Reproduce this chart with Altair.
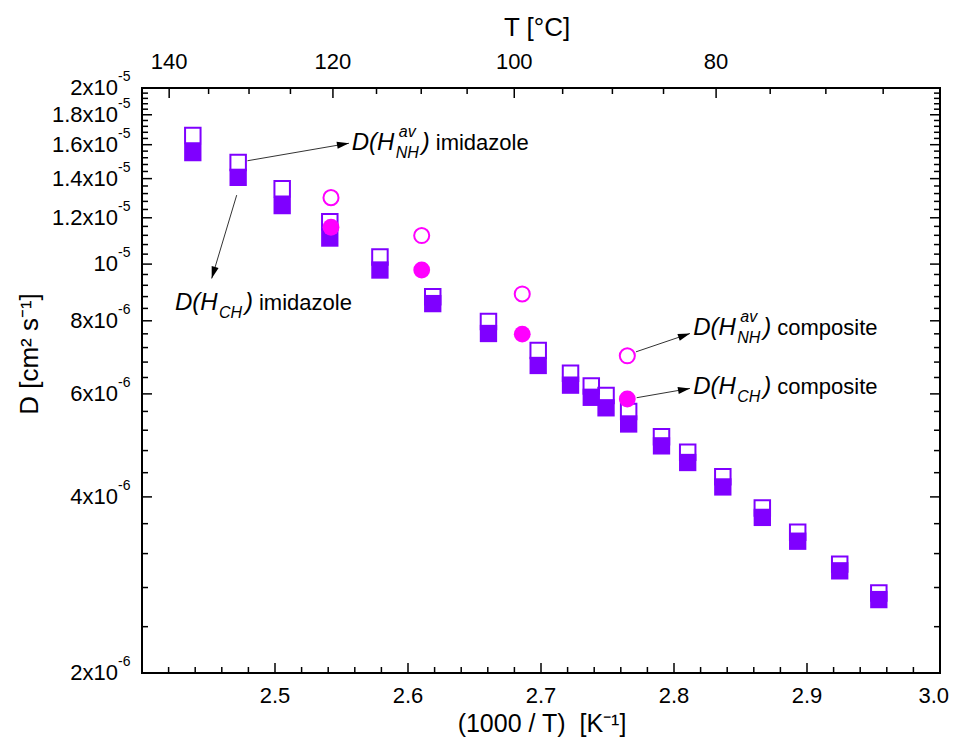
import altair as alt
import pandas as pd

# ---------------- data ----------------
inv_T_sq = [2.4382, 2.4723, 2.5054, 2.5412, 2.5789, 2.6186, 2.6605, 2.6979, 2.7222,
            2.7378, 2.7489, 2.7659, 2.7906, 2.8103, 2.8367, 2.8664, 2.8930, 2.9246, 2.9540]
D_NH_imid = [1.659e-5, 1.492e-5, 1.345e-5, 1.181e-5, 1.028e-5, 8.79e-6, 7.98e-6, 7.12e-6, 6.51e-6,
             6.19e-6, 5.96e-6, 5.60e-6, 5.07e-6, 4.77e-6, 4.33e-6, 3.83e-6, 3.48e-6, 3.07e-6, 2.74e-6]
D_CH_imid = [1.551e-5, 1.407e-5, 1.259e-5, 1.108e-5, 9.77e-6, 8.56e-6, 7.61e-6, 6.71e-6, 6.21e-6,
             5.92e-6, 5.68e-6, 5.33e-6, 4.89e-6, 4.58e-6, 4.16e-6, 3.69e-6, 3.36e-6, 2.99e-6, 2.67e-6]

inv_T_circ = [2.5421, 2.6103, 2.6859, 2.7649]
D_NH_comp = [1.299e-5, 1.119e-5, 8.89e-6, 6.97e-6]
D_CH_comp = [1.156e-5, 9.77e-6, 7.59e-6, 5.88e-6]

# axis ticks / labels
x_major = [2.5, 2.6, 2.7, 2.8, 2.9]
x_labels = [2.5, 2.6, 2.7, 2.8, 2.9]
x_last_label = [3.0]
x_minor = [round(2.4 + 0.02 * i, 2) for i in range(1, 30) if i % 5 != 0]
y_label_vals = [2e-6, 4e-6, 6e-6, 8e-6, 1e-5, 1.2e-5, 1.4e-5, 1.6e-5, 1.8e-5, 2e-5]
y_label_main = ["2x10", "4x10", "6x10", "8x10", "10", "1.2x10", "1.4x10", "1.6x10", "1.8x10", "2x10"]
y_label_exp = ["-6", "-6", "-6", "-6", "-5", "-5", "-5", "-5", "-5", "-5"]
y_major = y_label_vals[1:-1]
y_minor = [round(2 + 0.4 * i, 1) * 1e-6 for i in range(1, 45) if i % 5 != 0]
T_ticks = [140, 135, 130, 125, 120, 115, 110, 105, 100, 95, 90, 85, 80, 75, 70, 65]
T_labels = [140, 120, 100, 80]

# annotations
ann_x = [2.5577, 2.4248, 2.8145, 2.8145]
ann_D = [1.609e-5, 8.57e-6, 7.77e-6, 6.17e-6]
ann_sup = ["av", "", "av", ""]
ann_sub = ["NH", "CH", "NH", "CH"]
ann_word = ["imidazole", "imidazole", "composite", "composite"]

arr_x1 = [2.4793, 2.4712, 2.7714, 2.7719]
arr_D1 = [1.502e-5, 1.312e-5, 7.08e-6, 5.91e-6]
arr_x2 = [2.5556, 2.4524, 2.8120, 2.8120]
arr_D2 = [1.609e-5, 9.45e-6, 7.61e-6, 6.13e-6]
arr_ang = [350.4, 106.7, 341.2, 350.0]

# ---------------- chart ----------------
W, H = 798, 585
PURPLE = "#7F00FF"
MAGENTA = "#FF00FF"
FONT = "Liberation Sans"

xs = alt.Scale(domain=[2.4, 3.0], nice=False, zero=False)
ys = alt.Scale(type="log", domain=[2e-6, 2e-5], nice=False)

sq = pd.DataFrame({"x": inv_T_sq, "nh": D_NH_imid, "ch": D_CH_imid})
ci = pd.DataFrame({"x": inv_T_circ, "nh": D_NH_comp, "ch": D_CH_comp})


def X(f="x"):
    return alt.X(f"{f}:Q", scale=xs, axis=None)


def Y(f):
    return alt.Y(f"{f}:Q", scale=ys, axis=None)


open_sq = alt.Chart(sq).mark_point(shape="square", filled=False, color=PURPLE,
                                   strokeWidth=2, size=240, opacity=1).encode(x=X(), y=Y("nh"))
fill_sq = alt.Chart(sq).mark_point(shape="square", filled=True, color=PURPLE,
                                   size=300, opacity=1).encode(x=X(), y=Y("ch"))
open_ci = alt.Chart(ci).mark_point(shape="circle", filled=False, color=MAGENTA,
                                   strokeWidth=2, size=227, opacity=1).encode(x=X(), y=Y("nh"))
fill_ci = alt.Chart(ci).mark_point(shape="circle", filled=True, color=MAGENTA,
                                   size=283, opacity=1).encode(x=X(), y=Y("ch"))


def vticks(vals, y0, y1):
    return alt.Chart(pd.DataFrame({"v": vals})).mark_rule(color="black", strokeWidth=1.5).encode(
        x=X("v"), y=alt.value(y0), y2=alt.value(y1))


def hticks(vals, x0, x1):
    return alt.Chart(pd.DataFrame({"v": vals})).mark_rule(color="black", strokeWidth=1.5).encode(
        y=Y("v"), x=alt.value(x0), x2=alt.value(x1))


MAJ, MIN = 10, 6
tick_layers = [
    vticks(x_major, H, H - MAJ),
    vticks(x_minor, H, H - MIN),
    hticks(y_major, 0, MAJ),
    hticks(y_minor, 0, MIN),
    hticks(y_major, W, W - MAJ),
    hticks(y_minor, W, W - MIN),
]

tdf = pd.DataFrame({"T": T_ticks, "big": [t in T_labels for t in T_ticks]})
top_major = alt.Chart(tdf).transform_filter("datum.big").transform_calculate(
    v="1000/(datum.T+273.15)").mark_rule(color="black", strokeWidth=1.5).encode(
    x=X("v"), y=alt.value(0), y2=alt.value(MAJ))
top_minor = alt.Chart(tdf).transform_filter("!datum.big").transform_calculate(
    v="1000/(datum.T+273.15)").mark_rule(color="black", strokeWidth=1.5).encode(
    x=X("v"), y=alt.value(0), y2=alt.value(MIN))
top_lab = alt.Chart(pd.DataFrame({"T": T_labels})).transform_calculate(
    v="1000/(datum.T+273.15)").mark_text(font=FONT, fontSize=22, baseline="middle",
                                          align="center").encode(
    x=X("v"), y=alt.value(-26), text="T:N")

bot_lab = alt.Chart(pd.DataFrame({"v": x_labels})).mark_text(
    font=FONT, fontSize=22, baseline="middle", align="center").encode(
    x=X("v"), y=alt.value(608), text=alt.Text("v:Q", format=".1f"))
bot_last = alt.Chart(pd.DataFrame({"v": x_last_label})).mark_text(
    font=FONT, fontSize=22, baseline="middle", align="right", dx=9).encode(
    x=X("v"), y=alt.value(608), text=alt.Text("v:Q", format=".1f"))

ydf = pd.DataFrame({"v": y_label_vals, "m": y_label_main, "e": y_label_exp})
y_lab = alt.Chart(ydf).mark_text(font=FONT, fontSize=22, baseline="middle", align="right").encode(
    y=Y("v"), x=alt.value(-24), text="m:N")
y_exp = alt.Chart(ydf).mark_text(font=FONT, fontSize=14, baseline="middle", align="left",
                                 dy=-11).encode(
    y=Y("v"), x=alt.value(-24), text="e:N")

one = pd.DataFrame({"a": [0]})
x_title = alt.Chart(one).mark_text(font=FONT, fontSize=25, baseline="middle", align="center",
                                   text="(1000 / T)\u00a0 [K\u207b\u00b9]").encode(
    x=alt.value(400), y=alt.value(636))
top_title = alt.Chart(one).mark_text(font=FONT, fontSize=26, baseline="middle", align="center",
                                     text="T [\u00b0C]").encode(
    x=alt.value(395), y=alt.value(-60))
y_title = alt.Chart(one).mark_text(font=FONT, fontSize=26, baseline="middle", align="center",
                                   angle=270, text="D [cm\u00b2 s\u207b\u00b9]").encode(
    x=alt.value(-112), y=alt.value(266))

arr = pd.DataFrame({"x1": arr_x1, "D1": arr_D1, "x2": arr_x2, "D2": arr_D2, "ang": arr_ang})
arr_line = alt.Chart(arr).mark_rule(color="#333333", strokeWidth=1).encode(
    x=X("x1"), y=Y("D1"), x2="x2:Q", y2="D2:Q")
arr_head = alt.Chart(arr).mark_point(shape="M0,0L-2,-0.6L-2,0.6Z", filled=True, color="black",
                                     size=144, opacity=1).encode(
    x=X("x2"), y=Y("D2"), angle=alt.Angle("ang:Q", scale=None))

ann = pd.DataFrame({"x": ann_x, "D": ann_D, "sup": ann_sup, "sub": ann_sub, "word": ann_word})
a_base = alt.Chart(ann).mark_text(font=FONT, fontSize=24, fontStyle="italic", baseline="middle",
                                  align="left", text="D(H").encode(x=X(), y=Y("D"))
a_sup = alt.Chart(ann).mark_text(font=FONT, fontSize=16, fontStyle="italic", baseline="middle",
                                 align="left", dx=47, dy=-11).encode(x=X(), y=Y("D"), text="sup:N")
a_sub = alt.Chart(ann).mark_text(font=FONT, fontSize=16, fontStyle="italic", baseline="middle",
                                 align="left", dx=44, dy=10).encode(x=X(), y=Y("D"), text="sub:N")
a_par = alt.Chart(ann).mark_text(font=FONT, fontSize=24, fontStyle="italic", baseline="middle",
                                 align="left", dx=70, text=")").encode(x=X(), y=Y("D"))
a_word = alt.Chart(ann).mark_text(font=FONT, fontSize=22, baseline="middle",
                                  align="left", dx=84).encode(x=X(), y=Y("D"), text="word:N")

chart = alt.layer(
    *tick_layers, top_major, top_minor, top_lab, bot_lab, bot_last, y_lab, y_exp,
    x_title, top_title, y_title,
    open_sq, fill_sq, open_ci, fill_ci,
    arr_line, arr_head, a_base, a_sup, a_sub, a_par, a_word,
).properties(
    width=W, height=H,
    autosize=alt.AutoSizeParams(type="none"),
    padding={"left": 134, "top": 80, "right": 10, "bottom": 64},
).configure_view(stroke="black", strokeWidth=2)

chart.save("out.html", embed_options={"renderer": "svg", "actions": False})
